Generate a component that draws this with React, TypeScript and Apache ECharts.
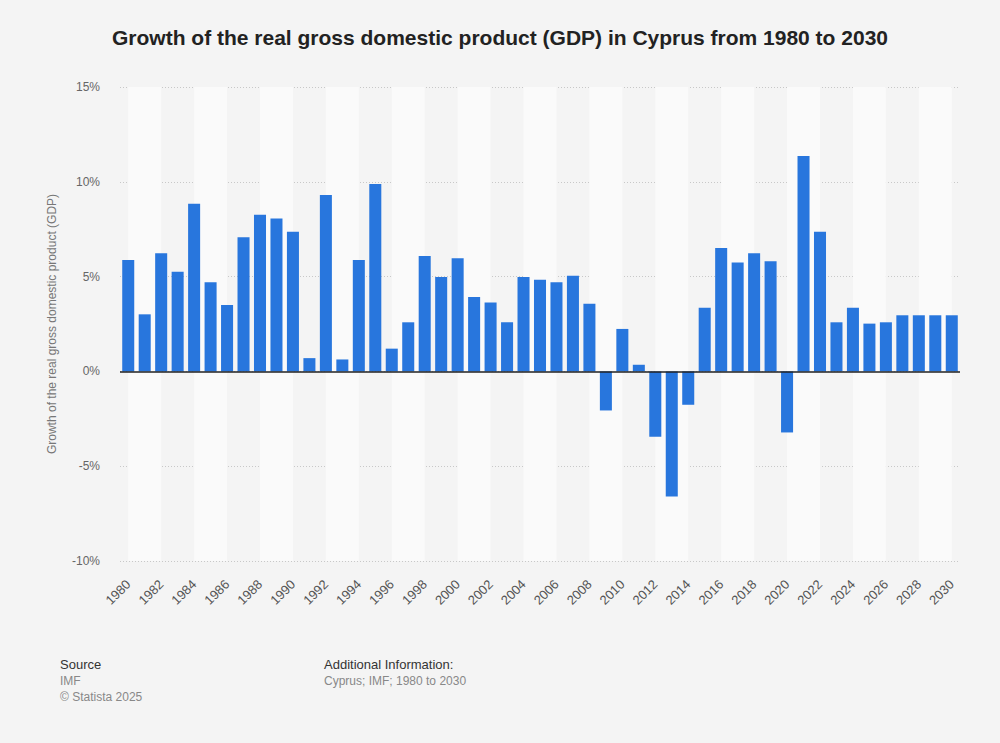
import React, { useEffect, useRef } from "react";
import * as echarts from "echarts";

// Years 1980–2030
const years: string[] = [];
for (let y = 1980; y <= 2030; y++) years.push(String(y));

// Real GDP growth, percent change on previous year
const growth: number[] = [
  5.88, 3.01, 6.23, 5.25, 8.84, 4.7, 3.5, 7.08, 8.26, 8.06,
  7.36, 0.7, 9.31, 0.63, 5.88, 9.88, 1.2, 2.59, 6.09, 4.98,
  5.97, 3.93, 3.64, 2.59, 4.98, 4.84, 4.7, 5.05, 3.57, -2.06,
  2.24, 0.35, -3.45, -6.6, -1.76, 3.36, 6.51, 5.74, 6.23, 5.81,
  -3.22, 11.36, 7.36, 2.59, 3.36, 2.52, 2.59, 2.96, 2.96, 2.96,
  2.96,
];

const yTicks = { min: -10, max: 15, interval: 5 };

const FONT = "'Liberation Sans', Arial, sans-serif";
const PAGE_BG = "#f4f4f4";

export default function App() {
  const ref = useRef<HTMLDivElement>(null);

  useEffect(() => {
    document.body.style.margin = "0";
    document.body.style.background = PAGE_BG;
    document.documentElement.style.background = PAGE_BG;
    if (!ref.current) return;
    const chart = echarts.init(ref.current, undefined, { renderer: "svg" });

    // light stripes running from one labelled year's centre to the next one's
    const bands: any[] = [];
    for (let i = 0; i + 2 < years.length; i += 4) {
      bands.push([{ xAxis: i }, { xAxis: i + 2 }]);
    }

    chart.setOption({
      animation: false,
      backgroundColor: PAGE_BG,
      textStyle: { fontFamily: FONT },
      title: {
        text: "Growth of the real gross domestic product (GDP) in Cyprus from 1980 to 2030",
        left: "center",
        top: 22,
        textStyle: { fontSize: 21, fontWeight: "bold", color: "#222", fontFamily: FONT },
      },
      grid: { left: 120, right: 40, top: 87, bottom: 182, containLabel: false },
      xAxis: [
        {
          type: "category",
          data: years,
          axisLine: { show: false },
          axisTick: { show: false },
          axisLabel: {
            interval: 1,
            rotate: 45,
            color: "#555",
            fontSize: 13,
            margin: 21,
            fontFamily: FONT,
          },
          splitLine: { show: false },
        },
        {
          // index-based helper axis used only to place the background stripes
          type: "value",
          min: -0.5,
          max: years.length - 0.5,
          show: false,
          splitLine: { show: false },
        },
      ],
      yAxis: {
        type: "value",
        min: yTicks.min,
        max: yTicks.max,
        interval: yTicks.interval,
        name: "Growth of the real gross domestic product (GDP)",
        nameLocation: "middle",
        nameGap: 62,
        nameTextStyle: { color: "#777", fontSize: 12, fontFamily: FONT },
        axisLine: { show: false },
        axisTick: { show: false },
        axisLabel: {
          formatter: "{value}%",
          color: "#666",
          fontSize: 12,
          margin: 20,
          fontFamily: FONT,
        },
        splitLine: { lineStyle: { color: "#c8c8c8", type: [1, 2], width: 1 } },
      },
      series: [
        {
          type: "line",
          xAxisIndex: 1,
          data: [],
          silent: true,
          z: 0,
          markArea: {
            silent: true,
            itemStyle: { color: "#fafafa" },
            data: bands,
          },
        },
        {
          type: "bar",
          data: growth,
          barCategoryGap: "27%",
          itemStyle: { color: "#2876dd" },
          z: 3,
          markLine: {
            silent: true,
            symbol: "none",
            label: { show: false },
            lineStyle: { color: "#222", type: "solid", width: 1.5 },
            data: [{ yAxis: 0 }],
            z: 5,
          },
        },
      ],
      graphic: [
        { type: "text", left: 60, top: 658, style: { text: "Source", fill: "#333", fontSize: 13, fontFamily: FONT } },
        { type: "text", left: 60, top: 675, style: { text: "IMF", fill: "#888", fontSize: 12, fontFamily: FONT } },
        { type: "text", left: 60, top: 691, style: { text: "© Statista 2025", fill: "#888", fontSize: 12, fontFamily: FONT } },
        { type: "text", left: 324, top: 658, style: { text: "Additional Information:", fill: "#333", fontSize: 13, fontFamily: FONT } },
        { type: "text", left: 324, top: 675, style: { text: "Cyprus; IMF; 1980 to 2030", fill: "#888", fontSize: 12, fontFamily: FONT } },
      ],
    });

    return () => chart.dispose();
  }, []);

  return <div ref={ref} style={{ width: 1000, height: 743 }} />;
}
